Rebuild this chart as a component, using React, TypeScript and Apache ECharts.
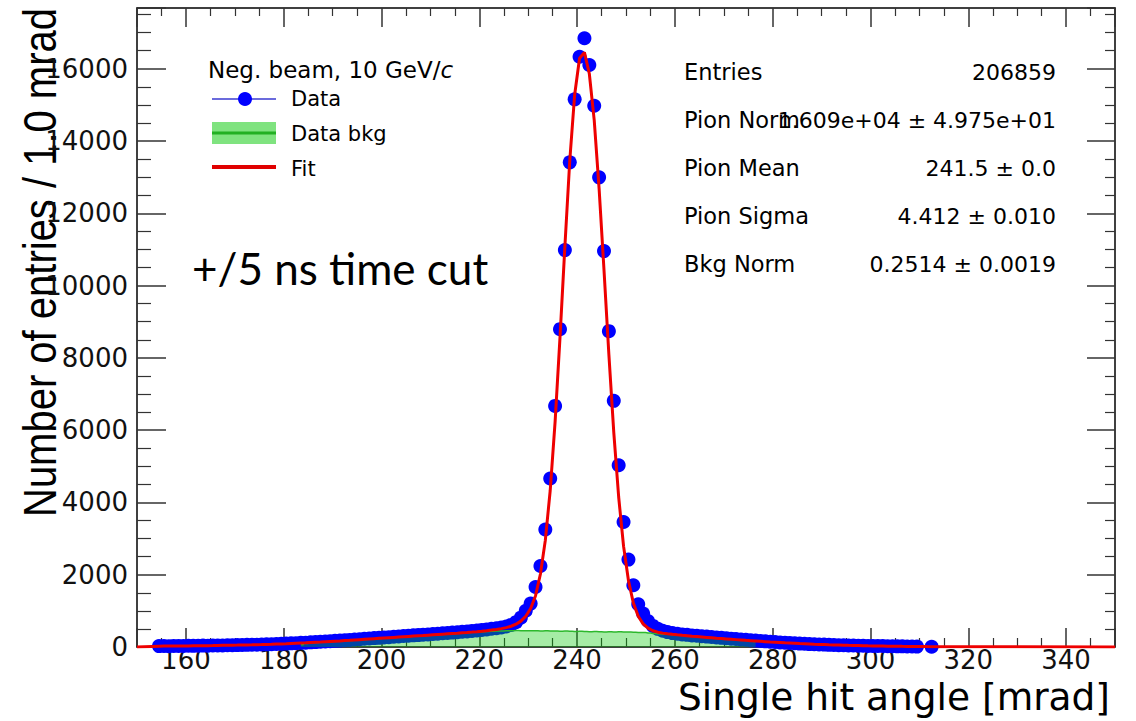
import React, { useEffect, useRef } from "react";
import * as echarts from "echarts";

// Histogram bins are 1 mrad wide; first data bin centre:
const dataFirstBin = 154.5;
// Counts per bin (154.5 ... 312.5); null = empty bin (not drawn)
const dataCounts: (number | null)[] = [
  25, 28, 24, 30, 27, 31, 34, 32, 36, 39, // 154.5-163.5
  37, 41, 44, 43, 48, 51, 53, 55, 59, 62, // 164.5-173.5
  64, 69, 73, 77, 83, 88, 94, 101, 107, 115, // 174.5-183.5
  121, 129, 135, 145, 152, 162, 171, 178, 190, 197, // 184.5-193.5
  209, 216, 227, 235, 247, 254, 266, 273, 285, 292, // 194.5-203.5
  303, 311, 322, 330, 341, 349, 360, 368, 379, 387, // 204.5-213.5
  399, 408, 421, 431, 446, 457, 473, 486, 504, 519, // 214.5-223.5
  541, 566, 612, 688, 812, 1004, 1201, 1661, 2242, 3250, // 224.5-233.5
  4662, 6671, 8794, 10981, 13409, 15153, 16332, 16842, 16102, 14976, // 234.5-243.5
  12994, 10954, 8739, 6810, 5030, 3460, 2419, 1708, 1182, 925, // 244.5-253.5
  720, 583, 502, 448, 412, 384, 366, 348, 336, 321, // 254.5-263.5
  311, 297, 288, 275, 266, 253, 244, 231, 222, 209, // 264.5-273.5
  200, 187, 178, 165, 157, 145, 138, 127, 120, 110, // 274.5-283.5
  104, 95, 90, 81, 77, 69, 66, 59, 56, 50, // 284.5-293.5
  48, 42, 41, 36, 35, 30, 30, 26, 26, 22, // 294.5-303.5
  22, 18, 19, 15, 14, 12, null, null, 8, // 304.5-312.5
];

// Fit function values at the same bin centres
const fitValues: number[] = [
  24, 25, 26, 27, 28, 30, 31, 33, 35, 36,
  38, 40, 43, 45, 47, 50, 52, 55, 58, 61,
  65, 68, 72, 76, 81, 86, 91, 97, 103, 109,
  115, 122, 129, 136, 144, 152, 160, 168, 177, 185,
  194, 203, 212, 221, 230, 239, 248, 257, 266, 275,
  284, 293, 302, 311, 319, 328, 337, 346, 355, 364,
  373, 382, 392, 402, 413, 425, 438, 452, 468, 486,
  508, 536, 574, 630, 716, 850, 1065, 1420, 2020, 2950,
  4330, 6230, 8560, 11080, 13460, 15280, 16290, 16450, 15860, 14580,
  12680, 10430, 8090, 5940, 4150, 2790, 1840, 1220, 850, 640,
  520, 450, 410, 384, 365, 350, 336, 323, 311, 299,
  288, 277, 266, 255, 244, 234, 224, 214, 204, 194,
  184, 175, 166, 157, 148, 139, 131, 123, 115, 108,
  101, 94, 88, 82, 76, 71, 66, 61, 57, 53,
  49, 45, 42, 39, 36, 33, 31, 28, 26, 24,
  22, 20, 18, 17, 15, 14, 12, 11, 10,
];
// Fit is drawn over the whole axis range; zero outside the data range
const fitRangeEnds = [150, 350];

// Background histogram (Data bkg), first bin centre and counts
const bkgFirstBin = 183.5;
const bkgCounts: number[] = [
  60, 100, 118, 126, 134, 141, 150, 158, 166, 175, // 183.5-192.5
  183, 192, 200, 210, 218, 228, 236, 246, 254, 264, // 193.5-202.5
  272, 282, 290, 300, 308, 317, 325, 335, 343, 353, // 203.5-212.5
  361, 371, 379, 389, 398, 407, 416, 424, 430, 436, // 213.5-222.5
  441, 446, 450, 452, 455, 453, 450, 452, 448, 446, // 223.5-232.5
  450, 443, 440, 437, 441, 434, 430, 433, 427, 424, // 233.5-242.5
  428, 421, 418, 422, 416, 419, 412, 415, 408, 404, // 243.5-252.5
  398, 388, 376, 366, 358, 350, 342, 333, 322, 310, // 253.5-262.5
  298, 287, 276, 265, 254, 243, 233, 223, 213, 203, // 263.5-272.5
  193, 183, 170, 150, // 273.5-276.5
];

const xRange = [150, 350];
const yRange = [0, 17680];
const yTickStep = 2000;

const legendHeader = "Neg. beam, 10 GeV/";
const legendHeaderItalic = "c";
const legendLabels = ["Data", "Data bkg", "Fit"];
const statsLabels = ["Entries", "Pion Norm", "Pion Mean", "Pion Sigma", "Bkg Norm"];
const statsValues = [
  "206859",
  "1.609e+04 ± 4.975e+01",
  "241.5 ± 0.0",
  "4.412 ± 0.010",
  "0.2514 ± 0.0019",
];
const xTitle = "Single hit angle [mrad]";
const yTitle = "Number of entries / 1.0 mrad";
const annotation = "+/5 ns time cut";

const FONT = "DejaVu Sans";

export default function App() {
  const ref = useRef<HTMLDivElement>(null);

  useEffect(() => {
    if (!ref.current) return;
    const chart = echarts.init(ref.current, null, { renderer: "svg" });

    const dataPts = dataCounts
      .map((v, i) => [dataFirstBin + i, v])
      .filter((p) => p[1] !== null);
    const fitPts: number[][] = [[fitRangeEnds[0], 0]];
    fitValues.forEach((v, i) => fitPts.push([dataFirstBin + i, v]));
    fitPts.push([fitRangeEnds[1], 0]);
    const bkgPts = bkgCounts.map((v, i) => [bkgFirstBin + i, v]);

    const axisCommon = {
      type: "value" as const,
      splitLine: { show: false },
      axisLine: { show: true, onZero: false, lineStyle: { color: "#000", width: 1.5 } },
    };

    const xAxisBase = {
      ...axisCommon,
      min: xRange[0],
      max: xRange[1],
      splitNumber: 10,
    };
    const yAxisBase = {
      ...axisCommon,
      min: yRange[0],
      max: yRange[1],
      interval: yTickStep,
    };

    const statsRowY = [72, 120, 168, 216, 264];
    const legendRowY = [99, 134, 169];

    const graphic: any[] = [
      // axis titles
      {
        type: "text",
        x: 40,
        y: 517,
        rotation: Math.PI / 2,
        scaleY: 1.15,
        style: {
          text: yTitle,
          fontFamily: "Liberation Sans",
          fontSize: 40,
          fill: "#000",
          align: "left",
          verticalAlign: "middle",
        },
      },
      {
        type: "text",
        x: 1110,
        y: 697,
        style: {
          text: xTitle,
          fontFamily: FONT,
          fontSize: 37.5,
          fill: "#000",
          align: "right",
          verticalAlign: "middle",
        },
      },
      // legend
      {
        type: "text",
        x: 208,
        y: 70,
        style: {
          text: "{a|" + legendHeader + "}{b|" + legendHeaderItalic + "}",
          rich: {
            a: { fontFamily: FONT, fontSize: 23, fill: "#000" },
            b: { fontFamily: FONT, fontSize: 23, fontStyle: "italic", fill: "#000" },
          },
          align: "left",
          verticalAlign: "middle",
        },
      },
      {
        type: "line",
        shape: { x1: 212, y1: legendRowY[0], x2: 276, y2: legendRowY[0] },
        style: { stroke: "#3a3ad0", lineWidth: 1.5 },
      },
      {
        type: "circle",
        shape: { cx: 245, cy: legendRowY[0], r: 7 },
        style: { fill: "#0000ff" },
      },
      {
        type: "rect",
        shape: { x: 212, y: 122, width: 64, height: 22 },
        style: { fill: "rgba(0,200,0,0.5)" },
      },
      {
        type: "line",
        shape: { x1: 212, y1: 133, x2: 276, y2: 133 },
        style: { stroke: "#22b022", lineWidth: 3 },
      },
      {
        type: "line",
        shape: { x1: 212, y1: 167, x2: 276, y2: 167 },
        style: { stroke: "#e00000", lineWidth: 4 },
      },
      ...legendLabels.map((t, i) => ({
        type: "text",
        x: 291,
        y: legendRowY[i],
        style: {
          text: t,
          fontFamily: FONT,
          fontSize: 21,
          fill: "#000",
          align: "left",
          verticalAlign: "middle",
        },
      })),
      // stats box
      ...statsLabels.map((t, i) => ({
        type: "text",
        x: 684,
        y: statsRowY[i],
        style: {
          text: t,
          fontFamily: FONT,
          fontSize: 22.5,
          fill: "#000",
          align: "left",
          verticalAlign: "middle",
        },
      })),
      ...statsValues.map((t, i) => ({
        type: "text",
        x: 1056,
        y: statsRowY[i],
        style: {
          text: t,
          fontFamily: FONT,
          fontSize: 22,
          fill: "#000",
          align: "right",
          verticalAlign: "middle",
        },
      })),
      // annotation
      {
        type: "text",
        x: 192,
        y: 268,
        style: {
          text: annotation,
          fontFamily: "Lato",
          fontSize: 44,
          fill: "#000",
          align: "left",
          verticalAlign: "middle",
        },
      },
    ];

    chart.setOption({
      animation: false,
      backgroundColor: "#fff",
      grid: { left: 137, top: 8, right: 21, bottom: 74, containLabel: false },
      xAxis: [
        {
          ...xAxisBase,
          position: "bottom",
          axisTick: { show: true, inside: true, length: 19, lineStyle: { color: "#333", width: 1.5 } },
          minorTick: { show: true, splitNumber: 4, length: 9, lineStyle: { color: "#333", width: 1.2 } },
          axisLabel: {
            fontFamily: FONT,
            fontSize: 26,
            color: "#111",
            margin: 0,
            formatter: (v: number) => (v === xRange[0] || v === xRange[1] ? "" : String(v)),
          },
        },
        {
          ...xAxisBase,
          position: "top",
          axisTick: { show: true, inside: true, length: 19, lineStyle: { color: "#333", width: 1.5 } },
          minorTick: { show: true, splitNumber: 4, length: 8, lineStyle: { color: "#333", width: 1.2 } },
          axisLabel: { show: false },
        },
      ],
      yAxis: [
        {
          ...yAxisBase,
          position: "left",
          axisTick: { show: true, inside: true, length: 29, lineStyle: { color: "#333", width: 1.5 } },
          minorTick: { show: true, splitNumber: 4, length: 14, lineStyle: { color: "#333", width: 1.2 } },
          axisLabel: {
            fontFamily: FONT,
            fontSize: 26,
            color: "#111",
            margin: 9,
            formatter: (v: number) => (v % yTickStep === 0 ? String(v) : ""),
          },
        },
        {
          ...yAxisBase,
          position: "right",
          axisTick: { show: true, inside: true, length: 28, lineStyle: { color: "#333", width: 1.5 } },
          minorTick: { show: true, splitNumber: 4, length: 10, lineStyle: { color: "#333", width: 1.2 } },
          axisLabel: { show: false },
        },
      ],
      series: [
        {
          name: "Data",
          type: "scatter",
          xAxisIndex: 0,
          yAxisIndex: 0,
          data: dataPts,
          symbol: "circle",
          symbolSize: 14,
          itemStyle: { color: "#0000ff", opacity: 1 },
          z: 2,
        },
        {
          name: "Data bkg",
          type: "line",
          xAxisIndex: 0,
          yAxisIndex: 0,
          data: bkgPts,
          step: "middle",
          showSymbol: false,
          symbol: "none",
          lineStyle: { color: "#2db82d", width: 1.5 },
          areaStyle: { color: "rgba(0,200,0,0.5)", origin: "start" },
          z: 3,
        },
        {
          name: "Fit",
          type: "line",
          xAxisIndex: 0,
          yAxisIndex: 0,
          data: fitPts,
          showSymbol: false,
          symbol: "none",
          lineStyle: { color: "#ee0000", width: 3 },
          z: 4,
        },
      ],
      graphic,
    });

    return () => chart.dispose();
  }, []);

  return (
    <div
      ref={ref}
      style={{ position: "fixed", left: 0, top: 0, width: 1136, height: 721, background: "#fff" }}
    />
  );
}
